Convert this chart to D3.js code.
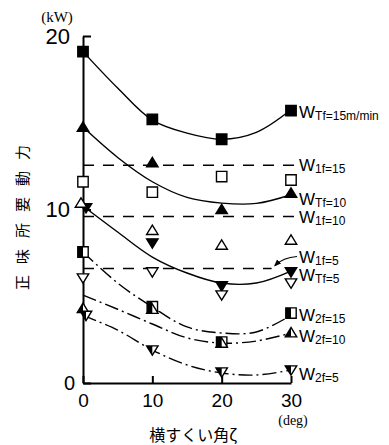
<!DOCTYPE html>
<html>
<head>
<meta charset="utf-8">
<script src="https://cdn.jsdelivr.net/npm/d3@7"></script>
<style>
  body { margin: 0; background: #fff; }
  svg { display: block; }
</style>
</head>
<body>
<div id="chart"></div>
<script>
/********/
/* data */
/********/

const angles = [0, 10, 20, 30];
const fitAngles = [0, 5, 10, 15, 20, 25, 30];
const xTicks = [0, 10, 20, 30];
const yTicks = [0, 10, 20];

// measured net power (kW)
const wTf15 = [19.1, 15.2, 14.05, 15.7];
const wTf10 = [14.75, 12.7, 10.0, 10.95];
const wTf5 = [10.1, 8.07, 5.6, 6.4];
const w1f15 = [11.6, 11.0, 11.9, 11.7];
const w1f10 = [10.37, 8.8, 7.95, 8.24];
const w1f5 = [6.05, 6.4, 5.07, 5.76];
const w2f15 = [7.55, 4.4, 2.36, 4.03];
const w2f10 = [4.3, 4.25, 2.3, 2.9];
const w2f5 = [3.9, 1.9, 0.63, 0.75];

// fitted curves
const wTf15Fit = [19.1, 17.0, 15.15, 14.4, 14.05, 14.45, 15.75];
const wTf10Fit = [14.75, 13.0, 11.6, 10.7, 10.37, 10.35, 10.85];
const wTf5Fit = [10.2, 8.7, 7.26, 6.34, 5.76, 5.76, 6.45];
const w2f15Fit = [7.55, 5.76, 4.38, 3.23, 2.88, 2.94, 3.9];
const w2f10Fit = [5.07, 4.25, 3.4, 2.6, 2.3, 2.42, 2.88];
const w2f5Fit = [3.9, 3.05, 1.9, 1.04, 0.58, 0.46, 0.75];

// W1 levels (dashed) and the angle where each dash line stops
const w1Levels = [12.55, 9.6, 6.6];
const w1LevelEnds = [30.9, 30.9, 27.2];

// right side labels
const labelSubs = ["Tf=15m/min", "1f=15", "Tf=10", "1f=10", "1f=5", "Tf=5", "2f=15", "2f=10", "2f=5"];
const labelLevels = [15.65, 12.59, 10.66, 9.57, 7.29, 6.25, 3.95, 2.74, 0.55];

/*********/
/* setup */
/*********/

const width = 389;
const height = 445;

const x = d3.scaleLinear().domain([0, 30]).range([83, 291]);
const y = d3.scaleLinear().domain([0, 20]).range([383, 36]);

const svg = d3
  .select("#chart")
  .append("svg")
  .attr("width", width)
  .attr("height", height);

svg.append("rect").attr("width", width).attr("height", height).attr("fill", "#fff");

// dx: small sideways nudge the original uses where markers sit on top of each other
const series = [
  { values: wTf15, shape: "square", fill: "full", dx: 0 },
  { values: wTf10, shape: "up", fill: "full", dx: 0 },
  { values: wTf5, shape: "down", fill: "full", dx: 3 },
  { values: w1f15, shape: "square", fill: "open", dx: 0 },
  { values: w1f10, shape: "up", fill: "open", dx: -2 },
  { values: w1f5, shape: "down", fill: "open", dx: 0 },
  { values: w2f15, shape: "square", fill: "half", dx: 0 },
  { values: w2f10, shape: "up", fill: "half", dx: 0 },
  { values: w2f5, shape: "down", fill: "half", dx: 3 },
];

const fits = [
  { values: wTf15Fit, dash: null },
  { values: wTf10Fit, dash: null },
  { values: wTf5Fit, dash: null },
  { values: w2f15Fit, dash: "14,4,2,4" },
  { values: w2f10Fit, dash: "14,4,2,4" },
  { values: w2f5Fit, dash: "14,4,2,4" },
];

/*********/
/* lines */
/*********/

const line = d3
  .line()
  .x((d, i) => x(fitAngles[i]))
  .y(d => y(d))
  .curve(d3.curveCatmullRom);

fits.forEach(f => {
  svg
    .append("path")
    .attr("d", line(f.values))
    .attr("fill", "none")
    .attr("stroke", "#000")
    .attr("stroke-width", 1.4)
    .attr("stroke-dasharray", f.dash);
});

w1Levels.forEach((lv, i) => {
  svg
    .append("line")
    .attr("x1", x(0))
    .attr("x2", x(w1LevelEnds[i]))
    .attr("y1", y(lv))
    .attr("y2", y(lv))
    .attr("stroke", "#000")
    .attr("stroke-width", 1.5)
    .attr("stroke-dasharray", "11,9");
});

/********/
/* axes */
/********/

const xAxis = svg
  .append("g")
  .attr("transform", `translate(0,${y(0)})`)
  .call(d3.axisBottom(x).tickValues(xTicks).tickSize(-7).tickSizeOuter(0).tickPadding(11));

const yAxis = svg
  .append("g")
  .attr("transform", `translate(${x(0)},0)`)
  .call(d3.axisLeft(y).tickValues(yTicks).tickSize(-8).tickSizeOuter(0).tickPadding(13));

[xAxis, yAxis].forEach(a => {
  a.selectAll("path, line").attr("stroke", "#000").attr("stroke-width", 2);
  a.selectAll("text")
    .attr("fill", "#000")
    .attr("font-family", "Liberation Sans, Arial, sans-serif");
});
xAxis.selectAll("text").attr("font-size", 19);
yAxis.selectAll("text").attr("font-size", 22);
yAxis
  .selectAll(".tick")
  .filter(d => d === 0)
  .select("text")
  .attr("x", -8)
  .attr("font-size", 20);

svg
  .append("text")
  .attr("x", 57)
  .attr("y", 22)
  .attr("text-anchor", "middle")
  .attr("font-family", "Liberation Serif, serif")
  .attr("font-size", 15)
  .text("(kW)");

svg
  .append("text")
  .attr("x", 293)
  .attr("y", 425)
  .attr("text-anchor", "middle")
  .attr("font-family", "Liberation Serif, serif")
  .attr("font-size", 14)
  .text("(deg)");

svg
  .append("text")
  .attr("x", 193)
  .attr("y", 441)
  .attr("text-anchor", "middle")
  .attr("font-family", "Noto Sans CJK JP")
  .attr("font-size", 16)
  .text("横すくい角ζ");

svg
  .append("text")
  .attr("transform", "translate(28,212) rotate(-90)")
  .attr("text-anchor", "middle")
  .attr("font-family", "Noto Sans CJK JP")
  .attr("font-size", 15)
  .attr("letter-spacing", 11)
  .text("正味所要動力");

/***********/
/* markers */
/***********/

function markerPath(shape, r) {
  const w = r * 1.1;
  const h = r * 0.8;
  if (shape === "square") return `M${-r},${-r}H${r}V${r}H${-r}Z`;
  if (shape === "up") return `M0,${-r}L${w},${h}L${-w},${h}Z`;
  return `M0,${r}L${w},${-h}L${-w},${-h}Z`;
}

function halfPath(shape, r) {
  const w = r * 1.1;
  const h = r * 0.8;
  if (shape === "square") return `M${-r},${-r}H0V${r}H${-r}Z`;
  if (shape === "up") return `M0,${-r}V${h}H${-w}Z`;
  return `M0,${r}V${-h}H${-w}Z`;
}

function drawMarker(g, shape, fill) {
  const r = 5.2;
  g.append("path")
    .attr("d", markerPath(shape, r))
    .attr("fill", fill === "full" ? "#000" : "#fff")
    .attr("stroke", "#000")
    .attr("stroke-width", 1.4);
  if (fill === "half") {
    g.append("path").attr("d", halfPath(shape, r)).attr("fill", "#000");
  }
}

series.forEach(s => {
  s.values.forEach((v, i) => {
    const nudge = i === 0 ? s.dx : 0;
    const g = svg
      .append("g")
      .attr("transform", `translate(${x(angles[i]) + nudge},${y(v)})`);
    drawMarker(g, s.shape, s.fill);
  });
});

/**********/
/* labels */
/**********/

labelSubs.forEach((sub, i) => {
  const t = svg
    .append("text")
    .attr("x", x(30) + 8)
    .attr("y", y(labelLevels[i]) + 6.5)
    .attr("font-family", "Liberation Sans, Arial, sans-serif");
  t.append("tspan").attr("font-size", 17).text("W");
  t.append("tspan").attr("font-size", 12).attr("dy", 2).text(sub);
});

// arrow from W1f=5 label to its dash line
svg
  .append("defs")
  .append("marker")
  .attr("id", "arrow")
  .attr("viewBox", "0 0 10 10")
  .attr("refX", 8)
  .attr("refY", 5)
  .attr("markerWidth", 6)
  .attr("markerHeight", 6)
  .attr("orient", "auto")
  .append("path")
  .attr("d", "M0,1L10,5L0,9Z")
  .attr("fill", "#000");

const ax = x(30) + 6;
const ay = y(labelLevels[4]);
svg
  .append("path")
  .attr("d", `M${ax},${ay}Q${ax - 14},${ay + 1} ${ax - 22},${ay + 9}`)
  .attr("fill", "none")
  .attr("stroke", "#000")
  .attr("stroke-width", 1.2)
  .attr("marker-end", "url(#arrow)");
</script>
</body>
</html>
